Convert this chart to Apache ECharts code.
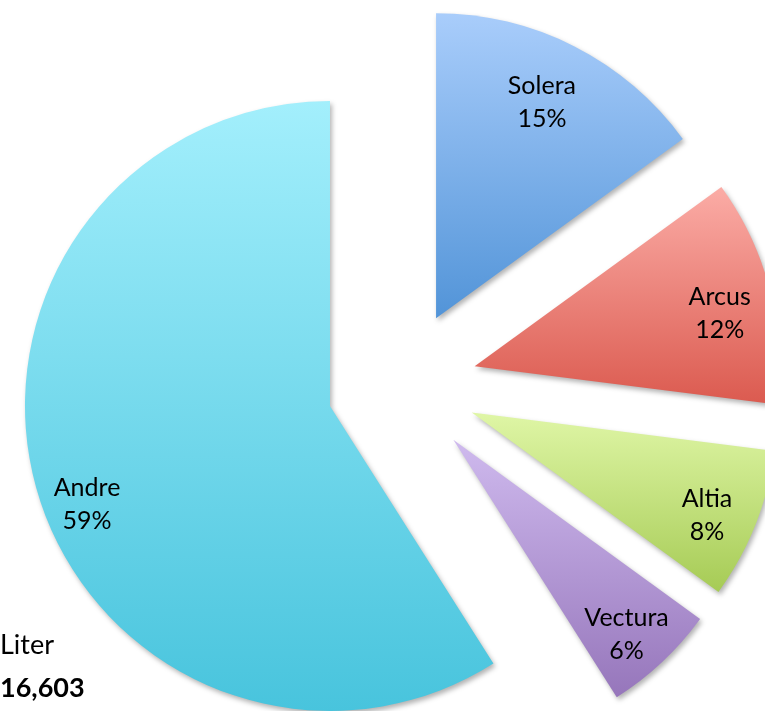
<!DOCTYPE html>
<html>
<head>
<meta charset="utf-8">
<script src="https://cdn.jsdelivr.net/npm/echarts@6/dist/echarts.min.js"></script>
<style>
    html, body { margin: 0; padding: 0; background: #fff; }
    #main { width: 765px; height: 711px; }
</style>
</head>
<body>
<div id="main"></div>
<script>
// data (share in %)
var names = ['Solera', 'Arcus', 'Altia', 'Vectura', 'Andre'];
var shares = [15, 12, 8, 6, 59];
// gradient colours top -> bottom
var topColors = ['#a9cdfb', '#fbaca6', '#dff6a6', '#cfbaee', '#a3effc'];
var bottomColors = ['#5294d8', '#db5a4f', '#a6cb55', '#9676bb', '#48c4dd'];
var totalText = ['Liter', '16,603'];

var myChart = echarts.init(document.getElementById('main'));

var pieData = [];
var labelData = [];
for (var i = 0; i < names.length; i++) {
    pieData.push({
        name: names[i],
        value: shares[i],
        selected: true,
        itemStyle: {
            color: new echarts.graphic.LinearGradient(0, 0, 0, 1, [
                {offset: 0, color: topColors[i]},
                {offset: 1, color: bottomColors[i]}
            ])
        }
    });
    labelData.push({name: names[i], value: shares[i], selected: true});
}
// Solera label is a little left of the middle in the original
labelData[0].label = {padding: [0, 18, 0, 0]};

myChart.setOption({
    animation: false,
    graphic: [
        {
            type: 'text',
            left: 0,
            top: 632,
            style: {text: totalText[0], fontSize: 27, fontFamily: 'Lato', fill: '#000'}
        },
        {
            type: 'text',
            left: 0,
            top: 675,
            style: {text: totalText[1], fontSize: 27, fontWeight: 'bold', fontFamily: 'Lato', fill: '#000'}
        }
    ],
    series: [
        {
            type: 'pie',
            center: [402, 385],
            radius: 305,
            startAngle: 90,
            clockwise: true,
            selectedMode: 'multiple',
            selectedOffset: 75,
            silent: true,
            label: {show: false},
            labelLine: {show: false},
            itemStyle: {
                shadowBlur: 5,
                shadowOffsetX: 2,
                shadowOffsetY: 3,
                shadowColor: 'rgba(0,0,0,0.3)'
            },
            data: pieData
        },
        {
            type: 'pie',
            center: [402, 385],
            radius: [195, 305],
            startAngle: 90,
            clockwise: true,
            selectedMode: 'multiple',
            selectedOffset: 75,
            silent: true,
            percentPrecision: 0,
            itemStyle: {color: 'rgba(0,0,0,0)'},
            label: {
                show: true,
                position: 'inside',
                // an empty first line pushes the text down like in the original
                formatter: function (p) {
                    var sp = p.name === 'Andre' ? '{tall| }' : '{sp| }';
                    return sp + '\n' + p.name + '\n' + p.percent + '%';
                },
                fontSize: 25,
                lineHeight: 33,
                fontFamily: 'Lato',
                color: '#000',
                rich: {
                    sp: {fontSize: 10, lineHeight: 20},
                    tall: {fontSize: 10, lineHeight: 56}
                }
            },
            labelLine: {show: false},
            data: labelData
        }
    ]
});
</script>
</body>
</html>
